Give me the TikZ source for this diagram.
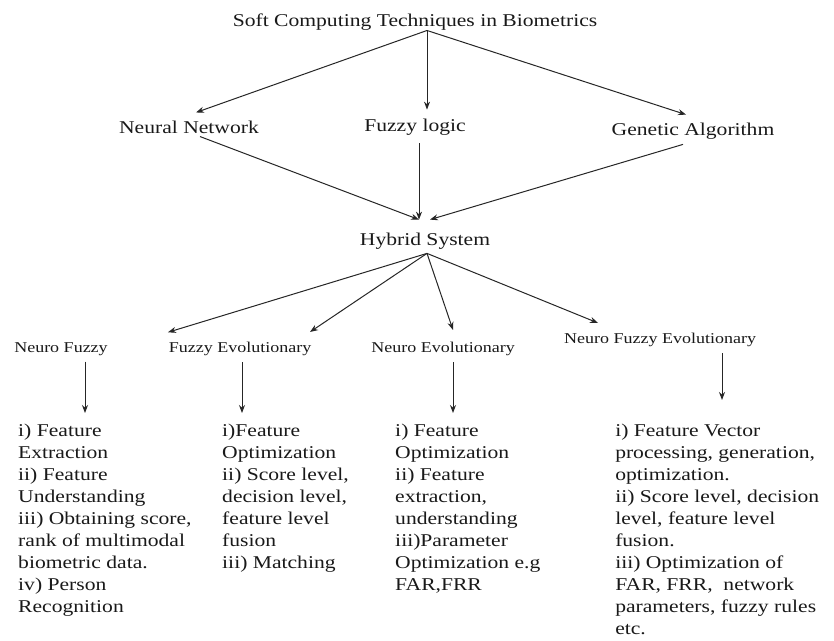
\documentclass[tikz,border=0pt]{standalone}
\usepackage{fontspec}
\setmainfont{Liberation Serif}
\usetikzlibrary{arrows.meta,calc}
\tikzset{
  lbl/.style={font=\fontsize{18}{22}\selectfont, xscale=1.2, inner sep=0pt, text=black!90},
  sm/.style={font=\fontsize{15}{18}\selectfont, xscale=1.2, inner sep=0pt, text=black!90},
  blk/.style={lbl, align=left, anchor=north west},
  arr/.style={draw=black!85, line width=1pt, -{Stealth[length=8pt,width=6pt]}}
}
\begin{document}
\begin{tikzpicture}[x=1pt,y=-1pt]
\useasboundingbox[fill=white] (0,0) rectangle (834,640);
% nodes
\node[lbl] (t) at (415,22) {Soft Computing Techniques in Biometrics};
\node[lbl] (nn) at (189,127) {Neural Network};
\node[lbl] (fl) at (415,127) {Fuzzy logic};
\node[lbl] (ga) at (693,131) {Genetic Algorithm};
\node[lbl] (hs) at (425,241) {Hybrid System};
\node[sm] (nf) at (61,349) {Neuro Fuzzy};
\node[sm] (fe) at (240,349) {Fuzzy Evolutionary};
\node[sm] (ne) at (443,349) {Neuro Evolutionary};
\node[sm] (nfe) at (660,340) {Neuro Fuzzy Evolutionary};
\node[blk] (b1) at (18,424) {i) Feature\\Extraction\\ii) Feature\\Understanding\\iii) Obtaining score,\\rank of multimodal\\biometric data.\\iv) Person\\Recognition};
\node[blk] (b2) at (222,424) {i)Feature\\Optimization\\ii) Score level,\\decision level,\\feature level\\fusion\\iii) Matching};
\node[blk] (b3) at (395,424) {i) Feature\\Optimization\\ii) Feature\\extraction,\\understanding\\iii)Parameter\\Optimization e.g\\FAR,FRR};
\node[blk] (b4) at (615,424) {i) Feature Vector\\processing, generation,\\optimization.\\ii) Score level, decision\\level, feature level\\fusion.\\iii) Optimization of\\FAR, FRR,\ \ network\\parameters, fuzzy rules\\etc.};
% connectors
\coordinate (ts) at ($(t.south)+(12,0)$);
\draw[arr] (ts) -- ($(nn.north)+(7,-8)$);
\draw[arr] (ts) -- ($(fl.north)+(12,-9)$);
\draw[arr] (ts) -- ($(ga.north)+(-7,-8)$);
\draw[arr] ($(nn.south)+(11,3)$) -- ($(hs.north)+(-6,-13)$);
\draw[arr] ($(fl.south)+(4,8)$) -- ($(hs.north)+(-6,-13)$);
\draw[arr] ($(ga.south)+(-10,5)$) -- ($(hs.north)+(5,-13)$);
\coordinate (hb) at ($(hs.south)+(2,4)$);
\draw[arr] (hb) -- ($(nf.north east)+(60,-10)$);
\draw[arr] (hb) -- ($(fe.north)+(70,-10)$);
\draw[arr] (hb) -- ($(ne.north)+(10,-12)$);
\draw[arr] (hb) -- ($(nfe.north)+(-62,-10)$);
\draw[arr] ($(nf.south)+(24,6)$) -- ($(b1.north west)+(67,-11)$);
\draw[arr] ($(fe.south)+(2,6)$) -- ($(b2.north west)+(20,-11)$);
\draw[arr] ($(ne.south)+(10,6)$) -- ($(b3.north west)+(58,-11)$);
\draw[arr] ($(nfe.south)+(62,6)$) -- ($(b4.north west)+(107,-24)$);
\end{tikzpicture}
\end{document}
